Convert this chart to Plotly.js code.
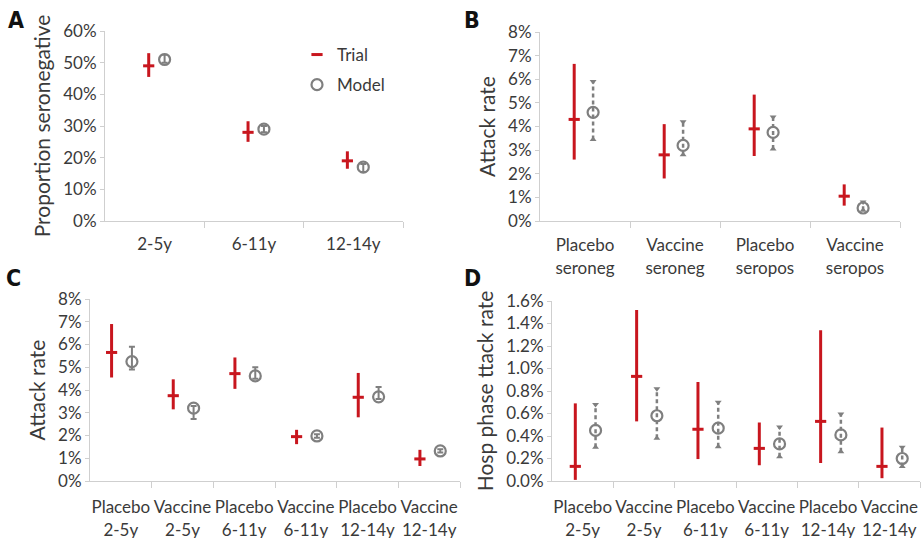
<!DOCTYPE html>
<html><head><meta charset="utf-8">
<script src="https://cdn.plot.ly/plotly-3.0.1.min.js"></script>
<style>html,body{margin:0;padding:0;background:#fff}#chart{width:924px;height:538px}</style>
</head><body><div id="chart"></div>
<script>
// ---- Panel A: proportion seronegative ----
const catsA = ['2-5y', '6-11y', '12-14y'];
const trialA = [49, 28, 19];
const trialA_lo = [45.5, 25, 16.5];
const trialA_hi = [53, 31.5, 22];
const modelA = [51, 29, 17];
const modelA_lo = [50, 28, 15.5];
const modelA_hi = [52.5, 30, 18];

// ---- Panel B: attack rate by serostatus ----
const catsB = ['Placebo<br>seroneg', 'Vaccine<br>seroneg', 'Placebo<br>seropos', 'Vaccine<br>seropos'];
const trialB = [4.3, 2.8, 3.9, 1.05];
const trialB_lo = [2.6, 1.8, 2.75, 0.65];
const trialB_hi = [6.65, 4.1, 5.35, 1.55];
const modelB = [4.6, 3.2, 3.75, 0.55];
const modelB_lo = [3.45, 2.8, 3.05, 0.45];
const modelB_hi = [5.9, 4.2, 4.4, 0.8];

// ---- Panel C: attack rate by arm and age ----
const catsC = ['Placebo<br>2-5y', 'Vaccine<br>2-5y', 'Placebo<br>6-11y', 'Vaccine<br>6-11y', 'Placebo<br>12-14y', 'Vaccine<br>12-14y'];
const trialC = [5.65, 3.75, 4.72, 1.95, 3.68, 0.97];
const trialC_lo = [4.55, 3.15, 4.05, 1.62, 2.8, 0.66];
const trialC_hi = [6.9, 4.47, 5.43, 2.25, 4.75, 1.37];
const modelC = [5.25, 3.2, 4.62, 1.98, 3.7, 1.32];
const modelC_lo = [4.9, 2.73, 4.5, 1.9, 3.6, 1.25];
const modelC_hi = [5.9, 3.3, 5.0, 2.05, 4.13, 1.4];

// ---- Panel D: hospitalisation-phase attack rate ----
const catsD = ['Placebo<br>2-5y', 'Vaccine<br>2-5y', 'Placebo<br>6-11y', 'Vaccine<br>6-11y', 'Placebo<br>12-14y', 'Vaccine<br>12-14y'];
const trialD = [0.13, 0.93, 0.46, 0.29, 0.53, 0.13];
const trialD_lo = [0.01, 0.53, 0.195, 0.14, 0.16, 0.025];
const trialD_hi = [0.69, 1.52, 0.88, 0.52, 1.34, 0.475];
const modelD = [0.45, 0.58, 0.47, 0.33, 0.41, 0.2];
const modelD_lo = [0.3, 0.38, 0.305, 0.215, 0.26, 0.13];
const modelD_hi = [0.68, 0.82, 0.7, 0.48, 0.595, 0.3];

const RED = '#c8161e';
const GREY = '#7f7f7f';
const AXIS = '#cfcfcf';
const TXT = '#3a3a3a';
const FONT = 'Lato, "Open Sans", sans-serif';

const traces = [];
function panel(cats, t, tlo, thi, m, mlo, mhi, xa, ya, offT, offM, dashed, leg) {
  const xt = cats.map((_, i) => i + offT);
  const xm = cats.map((_, i) => i + offM);
  traces.push({
    type: 'scatter', mode: 'markers', x: xt, y: t, xaxis: xa, yaxis: ya,
    name: 'Trial', legendgroup: 'trial', showlegend: leg, hoverinfo: 'skip',
    marker: {symbol: 'line-ew', size: 8, color: RED, line: {color: RED, width: 3}},
    error_y: {type: 'data', symmetric: false, array: thi.map((v, i) => v - t[i]),
              arrayminus: tlo.map((v, i) => t[i] - v), thickness: 3, width: 0, color: RED}
  });
  if (dashed) {
    const lx = [], ly = [];
    m.forEach((_, i) => { lx.push(xm[i], xm[i], null); ly.push(mlo[i], mhi[i], null); });
    traces.push({type: 'scatter', mode: 'lines', x: lx, y: ly, xaxis: xa, yaxis: ya,
      legendgroup: 'model', showlegend: false, hoverinfo: 'skip',
      line: {color: GREY, width: 2.5, dash: '4px,3px'}});
    traces.push({type: 'scatter', mode: 'markers', x: xm.concat(xm), y: mhi.concat(mlo), xaxis: xa, yaxis: ya,
      legendgroup: 'model', showlegend: false, hoverinfo: 'skip',
      marker: {symbol: m.map(() => 'triangle-down').concat(m.map(() => 'triangle-up')), size: 6, color: GREY}});
    traces.push({type: 'scatter', mode: 'markers', x: xm, y: m, xaxis: xa, yaxis: ya,
      name: 'Model', legendgroup: 'model', showlegend: leg, hoverinfo: 'skip',
      marker: {symbol: 'circle-open', size: 11, color: GREY, line: {color: GREY, width: 2.2}}});
  } else {
    traces.push({type: 'scatter', mode: 'markers', x: xm, y: m, xaxis: xa, yaxis: ya,
      name: 'Model', legendgroup: 'model', showlegend: leg, hoverinfo: 'skip',
      marker: {symbol: 'circle-open', size: 11, color: GREY, line: {color: GREY, width: 2.2}},
      error_y: {type: 'data', symmetric: false, array: mhi.map((v, i) => v - m[i]),
                arrayminus: mlo.map((v, i) => m[i] - v), thickness: 2, width: 3, color: GREY}});
  }
}
panel(catsA, trialA, trialA_lo, trialA_hi, modelA, modelA_lo, modelA_hi, 'x', 'y', -0.06, 0.10, false, true);
panel(catsB, trialB, trialB_lo, trialB_hi, modelB, modelB_lo, modelB_hi, 'x2', 'y2', -0.12, 0.09, true, false);
panel(catsC, trialC, trialC_lo, trialC_hi, modelC, modelC_lo, modelC_hi, 'x3', 'y3', -0.15, 0.18, false, false);
panel(catsD, trialD, trialD_lo, trialD_hi, modelD, modelD_lo, modelD_hi, 'x4', 'y4', -0.12, 0.21, true, false);

const W = 924, H = 538;
function xax(cats, x0, x1, anchor, standoff) {
  const n = cats.length;
  return {
    domain: [x0 / W, x1 / W], anchor: anchor, range: [-0.5, n - 0.5],
    tickmode: 'array', tickvals: cats.map((_, i) => i), ticktext: cats, ticks: '',
    ticklabelstandoff: standoff,
    showline: true, linecolor: AXIS, linewidth: 1, showgrid: false, zeroline: false,
    tickfont: {family: FONT, size: 17, color: TXT},
    minor: {tickmode: 'array', tickvals: cats.map((_, i) => i + 0.5), ticks: 'outside',
            ticklen: 6, tickcolor: AXIS, tickwidth: 1, showgrid: false},
    fixedrange: true
  };
}
function yax(y0, y1, max, dtick, fmt, title, anchor, standoff) {
  return {
    domain: [1 - y1 / H, 1 - y0 / H], anchor: anchor, range: [0, max], dtick: dtick,
    tickformat: fmt, ticksuffix: '%', ticks: 'outside', ticklen: 4, tickcolor: AXIS,
    showline: true, linecolor: AXIS, linewidth: 1, showgrid: false, zeroline: false,
    tickfont: {family: FONT, size: 17, color: TXT},
    title: {text: title, font: {family: FONT, size: 21, color: TXT}, standoff: standoff},
    fixedrange: true
  };
}
const letter = (t, x, y) => ({text: '<b>' + t + '</b>', xref: 'paper', yref: 'paper',
  x: x / W, y: 1 - y / H, xanchor: 'left', yanchor: 'top', showarrow: false,
  font: {family: '"DejaVu Sans Condensed", "DejaVu Sans", sans-serif', size: 23, color: '#111'}});

const layout = {
  width: W, height: H, margin: {l: 0, r: 0, t: 0, b: 0},
  paper_bgcolor: '#fff', plot_bgcolor: '#fff',
  font: {family: FONT, color: TXT},
  xaxis: xax(catsA, 105, 403, 'y', 8),
  yaxis: yax(31, 221, 60, 10, '.0f', 'Proportion seronegative', 'x', 6),
  xaxis2: xax(catsB, 540, 900, 'y2', 9),
  yaxis2: yax(32, 221, 8, 1, '.0f', 'Attack rate', 'x2', 6),
  xaxis3: xax(catsC, 90, 460, 'y3', 11),
  yaxis3: yax(299, 481, 8, 1, '.0f', 'Attack rate', 'x3', 6),
  xaxis4: xax(catsD, 552, 920, 'y4', 11),
  yaxis4: yax(301, 481, 1.6, 0.2, '.1f', 'Hosp phase ttack rate', 'x4', 6),
  showlegend: true,
  legend: {x: 297 / W, y: 1 - 37 / H, xanchor: 'left', yanchor: 'top', bgcolor: 'rgba(0,0,0,0)',
           font: {family: FONT, size: 17, color: TXT}, itemwidth: 30, tracegroupgap: 5,
           traceorder: 'grouped'},
  annotations: [letter('A', 6, 5), letter('B', 462, 5), letter('C', 4, 263), letter('D', 462, 263)]
};
Plotly.newPlot('chart', traces, layout, {displayModeBar: false, staticPlot: true});
</script>
</body></html>
